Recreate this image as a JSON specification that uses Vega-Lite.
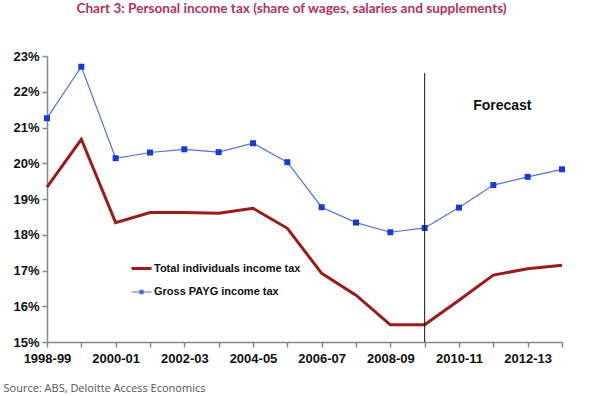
{
  "$schema": "https://vega.github.io/schema/vega-lite/v6.json",
  "autosize": "none",
  "width": 515,
  "height": 286,
  "padding": {"left": 47, "top": 56, "right": 38, "bottom": 54},
  "background": "white",
  "title": {
    "text": "Chart 3: Personal income tax (share of wages, salaries and supplements)",
    "font": "Lato",
    "fontSize": 13.6,
    "fontWeight": "bold",
    "color": "#b0335f",
    "anchor": "middle",
    "offset": 34,
    "dx": -13
  },
  "config": {
    "view": {"stroke": null},
    "axis": {"grid": false, "labelFont": "Liberation Sans", "labelFontWeight": "bold", "labelFontSize": 13, "labelColor": "#111", "domainColor": "#888", "tickColor": "#888", "domainWidth": 1.5, "tickWidth": 1.5, "labelOverlap": false}
  },
  "datasets": {
    "series": [
      {"period": "1998-99", "series": "Total individuals income tax", "value": 19.33},
      {"period": "1999-00", "series": "Total individuals income tax", "value": 20.67},
      {"period": "2000-01", "series": "Total individuals income tax", "value": 18.34},
      {"period": "2001-02", "series": "Total individuals income tax", "value": 18.62},
      {"period": "2002-03", "series": "Total individuals income tax", "value": 18.62},
      {"period": "2003-04", "series": "Total individuals income tax", "value": 18.6},
      {"period": "2004-05", "series": "Total individuals income tax", "value": 18.74},
      {"period": "2005-06", "series": "Total individuals income tax", "value": 18.18},
      {"period": "2006-07", "series": "Total individuals income tax", "value": 16.92},
      {"period": "2007-08", "series": "Total individuals income tax", "value": 16.31},
      {"period": "2008-09", "series": "Total individuals income tax", "value": 15.48},
      {"period": "2009-10", "series": "Total individuals income tax", "value": 15.48},
      {"period": "2010-11", "series": "Total individuals income tax", "value": 16.17},
      {"period": "2011-12", "series": "Total individuals income tax", "value": 16.87},
      {"period": "2012-13", "series": "Total individuals income tax", "value": 17.05},
      {"period": "2013-14", "series": "Total individuals income tax", "value": 17.15},
      {"period": "1998-99", "series": "Gross PAYG income tax", "value": 21.26},
      {"period": "1999-00", "series": "Gross PAYG income tax", "value": 22.7},
      {"period": "2000-01", "series": "Gross PAYG income tax", "value": 20.14},
      {"period": "2001-02", "series": "Gross PAYG income tax", "value": 20.3},
      {"period": "2002-03", "series": "Gross PAYG income tax", "value": 20.39},
      {"period": "2003-04", "series": "Gross PAYG income tax", "value": 20.31},
      {"period": "2004-05", "series": "Gross PAYG income tax", "value": 20.56},
      {"period": "2005-06", "series": "Gross PAYG income tax", "value": 20.03},
      {"period": "2006-07", "series": "Gross PAYG income tax", "value": 18.77},
      {"period": "2007-08", "series": "Gross PAYG income tax", "value": 18.34},
      {"period": "2008-09", "series": "Gross PAYG income tax", "value": 18.07},
      {"period": "2009-10", "series": "Gross PAYG income tax", "value": 18.19},
      {"period": "2010-11", "series": "Gross PAYG income tax", "value": 18.76},
      {"period": "2011-12", "series": "Gross PAYG income tax", "value": 19.39},
      {"period": "2012-13", "series": "Gross PAYG income tax", "value": 19.62},
      {"period": "2013-14", "series": "Gross PAYG income tax", "value": 19.83}
    ],
    "marker": [
      {"period": "2009-10", "value": 15, "high": 22.52}
    ],
    "note": [
      {"period": "2011-12", "value": 21.6, "text": "Forecast"}
    ]
  },
  "encoding": {
    "x": {
      "field": "period",
      "type": "ordinal",
      "sort": null,
      "scale": {"type": "point", "padding": 0},
      "axis": {
        "labelAngle": 0,
        "tickSize": 5,
        "labelPadding": 5,
        "labelExpr": "toNumber(substring(datum.value, 0, 4)) % 2 == 0 ? datum.value : ''",
        "title": "Source: ABS, Deloitte Access Economics",
        "titleFont": "Open Sans",
        "titleFontSize": 11,
        "titleFontWeight": "normal",
        "titleColor": "#555",
        "titleAnchor": "start",
        "titleAlign": "left",
        "titleBaseline": "middle",
        "titleX": -44,
        "titleY": 46
      }
    },
    "y": {
      "field": "value",
      "type": "quantitative",
      "scale": {"domain": [15, 23], "nice": false, "zero": false},
      "axis": {"values": [15, 16, 17, 18, 19, 20, 21, 22, 23], "tickCount": 9, "labelExpr": "datum.value + '%'", "title": null, "tickSize": 5, "labelPadding": 3, "labelOverlap": false}
    }
  },
  "layer": [
    {
      "data": {"name": "series"},
      "mark": {"type": "line", "strokeJoin": "miter"},
      "encoding": {
        "color": {
          "field": "series",
          "type": "nominal",
          "scale": {"domain": ["Total individuals income tax", "Gross PAYG income tax"], "range": ["#9b1b1b", "#5b6fdc"]},
          "legend": {
            "title": null,
            "orient": "none",
            "legendX": 83,
            "legendY": 201,
            "symbolType": "stroke",
            "symbolSize": 400,
            "rowPadding": 6,
            "labelOffset": 1,
            "labelFont": "Liberation Sans",
            "labelFontWeight": "bold",
            "labelFontSize": 11,
            "labelColor": "#111",
            "encode": {
              "symbols": {
                "update": {
                  "shape": {"signal": "datum.value == 'Gross PAYG income tax' ? 'M-1,0H1M-0.16,-0.16H0.16V0.16H-0.16Z' : 'stroke'"},
                  "fill": {"signal": "datum.value == 'Gross PAYG income tax' ? '#1a3ad6' : 'transparent'"},
                  "strokeWidth": {"signal": "datum.value == 'Gross PAYG income tax' ? 1.2 : 3"}
                }
              }
            }
          }
        },
        "strokeWidth": {
          "field": "series",
          "type": "nominal",
          "scale": {"domain": ["Total individuals income tax", "Gross PAYG income tax"], "range": [3, 1.2]},
          "legend": null
        }
      }
    },
    {
      "data": {"name": "series"},
      "transform": [{"filter": "datum.series == 'Gross PAYG income tax'"}],
      "mark": {"type": "square", "size": 36, "color": "#1a3ad6", "opacity": 1, "filled": true}
    },
    {
      "data": {"name": "marker"},
      "mark": {"type": "rule", "color": "#111", "strokeWidth": 1},
      "encoding": {
        "y2": {"field": "high"}
      }
    },
    {
      "data": {"name": "note"},
      "mark": {"type": "text", "font": "Liberation Sans", "fontWeight": "bold", "fontSize": 14, "color": "#111", "dx": 9},
      "encoding": {
        "text": {"field": "text"}
      }
    }
  ]
}
